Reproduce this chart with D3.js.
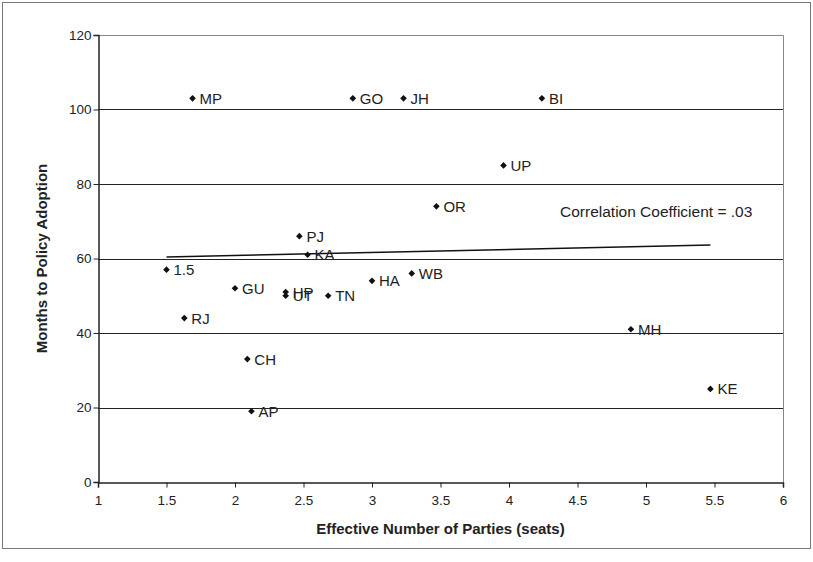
<!DOCTYPE html>
<html>
<head>
<meta charset="utf-8">
<script src="https://cdn.jsdelivr.net/npm/d3@7"></script>
<style>
  body { margin: 0; background: #fff; }
  text { font-family: "Liberation Sans", Arial, sans-serif; fill: #222; }
</style>
</head>
<body>
<svg id="chart" width="813" height="562"></svg>
<script>
// states and their values
var states = ['MP', 'GO', 'JH', 'BI', 'UP', 'OR', 'PJ', 'KA', '1.5', 'GU', 'HP', 'UT', 'TN', 'HA', 'WB', 'RJ', 'CH', 'AP', 'MH', 'KE'];
var parties = [1.69, 2.86, 3.23, 4.24, 3.96, 3.47, 2.47, 2.53, 1.50, 2.00, 2.37, 2.37, 2.68, 3.00, 3.29, 1.63, 2.09, 2.12, 4.89, 5.47];
var months = [103, 103, 103, 103, 85, 74, 66, 61, 57, 52, 51, 50, 50, 54, 56, 44, 33, 19, 41, 25];

var xTicks = [1, 1.5, 2, 2.5, 3, 3.5, 4, 4.5, 5, 5.5, 6];
var yTicks = [0, 20, 40, 60, 80, 100, 120];

// trend line end points
var trendX = [1.5, 5.47];
var trendY = [60.4, 63.6];

var svg = d3.select('#chart');

// outer frame
svg.append('rect')
  .attr('x', 2.5).attr('y', 2.5)
  .attr('width', 808).attr('height', 546)
  .attr('fill', 'none')
  .attr('stroke', '#777');

var pLeft = 98, pRight = 783, pTop = 35, pBottom = 482;

var x = d3.scaleLinear().domain([1, 6]).range([pLeft, pRight]);
var y = d3.scaleLinear().domain([0, 120]).range([pBottom, pTop]);

// grid lines
svg.append('g')
  .selectAll('line')
  .data(yTicks.filter(function(d){ return d > 0 && d < 120; }))
  .enter().append('line')
  .attr('x1', pLeft).attr('x2', pRight)
  .attr('y1', function(d){ return Math.round(y(d)) + 0.5; })
  .attr('y2', function(d){ return Math.round(y(d)) + 0.5; })
  .attr('stroke', '#222');

// top and right border
svg.append('path')
  .attr('d', 'M' + pLeft + ',' + (pTop + 0.5) + 'H' + (pRight + 0.5) + 'V' + pBottom)
  .attr('fill', 'none')
  .attr('stroke', '#888');

var xAxis = svg.append('g')
  .attr('transform', 'translate(0,' + (pBottom + 0.5) + ')')
  .call(d3.axisBottom(x).tickValues(xTicks).tickSize(5).tickFormat(d3.format('')));

var yAxis = svg.append('g')
  .attr('transform', 'translate(' + (pLeft + 0.5) + ',0)')
  .call(d3.axisLeft(y).tickValues(yTicks).tickSize(5));

[xAxis, yAxis].forEach(function(g){
  g.select('.domain').attr('stroke', '#222').attr('stroke-width', 1.5);
  g.selectAll('.tick line').attr('stroke', '#222');
  g.selectAll('.tick text')
    .style('font-family', '"Liberation Sans", Arial, sans-serif')
    .style('font-size', '13.5px')
    .attr('fill', '#222');
});
xAxis.selectAll('.tick text').attr('dy', '1.1em');
yAxis.selectAll('.tick text').attr('x', -7);

// trend line
svg.append('line')
  .attr('x1', x(trendX[0])).attr('y1', y(trendY[0]))
  .attr('x2', x(trendX[1])).attr('y2', y(trendY[1]))
  .attr('stroke', '#111')
  .attr('stroke-width', 1.5);

// points
var pts = svg.append('g')
  .selectAll('g')
  .data(states)
  .enter().append('g')
  .attr('transform', function(d, i){ return 'translate(' + x(parties[i]) + ',' + y(months[i]) + ')'; });

pts.append('path')
  .attr('d', d3.symbol().type(d3.symbolDiamond2).size(28))
  .attr('fill', '#111');

pts.append('text')
  .attr('x', 7)
  .attr('y', 5.5)
  .style('font-size', '15px')
  .text(function(d){ return d; });

svg.append('text')
  .attr('x', 560)
  .attr('y', 217)
  .style('font-size', '15.5px')
  .text('Correlation Coefficient = .03');

// axis titles
svg.append('text')
  .attr('x', (pLeft + pRight) / 2)
  .attr('y', 534)
  .attr('text-anchor', 'middle')
  .style('font-size', '15px')
  .style('font-weight', 'bold')
  .text('Effective Number of Parties (seats)');

svg.append('text')
  .attr('transform', 'translate(47,' + ((pTop + pBottom) / 2) + ') rotate(-90)')
  .attr('text-anchor', 'middle')
  .style('font-size', '15px')
  .style('font-weight', 'bold')
  .text('Months to Policy Adoption');
</script>
</body>
</html>
